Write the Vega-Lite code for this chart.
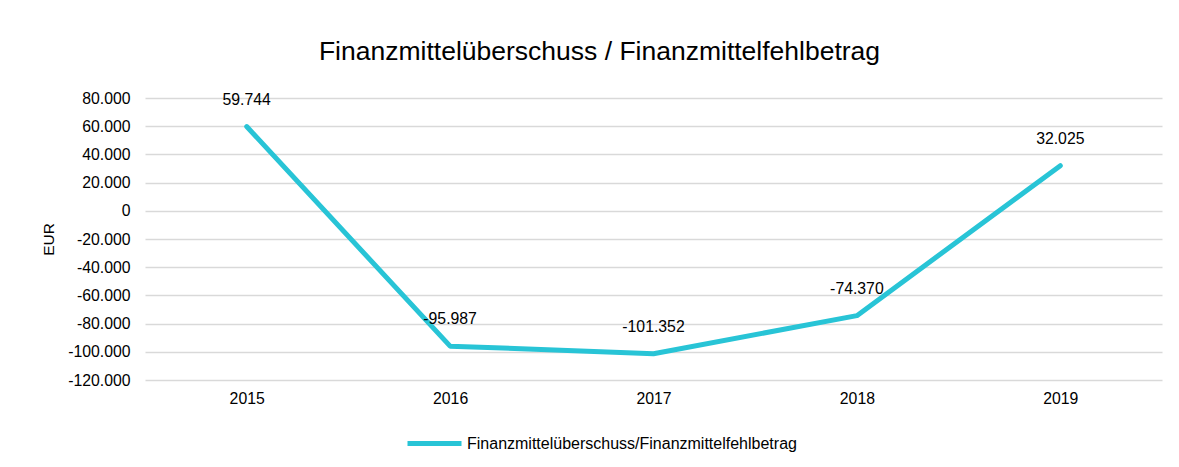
{
  "$schema": "https://vega.github.io/schema/vega-lite/v6.json",
  "autosize": "none",
  "width": 1017,
  "height": 282,
  "padding": {"left": 145, "top": 98, "right": 17, "bottom": 87},
  "background": "white",
  "config": {
    "font": "Liberation Sans",
    "view": {"stroke": null},
    "locale": {"number": {"decimal": ",", "thousands": ".", "grouping": [3], "currency": ["", " €"], "minus": "-"}}
  },
  "title": {
    "text": "Finanzmittelüberschuss / Finanzmittelfehlbetrag",
    "fontSize": 26.5,
    "fontWeight": "normal",
    "color": "#000000",
    "anchor": "middle",
    "baseline": "alphabetic",
    "offset": 4,
    "dx": -54
  },
  "data": {
    "values": [
      {"Jahr": "2015", "Wert": 59744, "Reihe": "Finanzmittelüberschuss/Finanzmittelfehlbetrag"},
      {"Jahr": "2016", "Wert": -95987, "Reihe": "Finanzmittelüberschuss/Finanzmittelfehlbetrag"},
      {"Jahr": "2017", "Wert": -101352, "Reihe": "Finanzmittelüberschuss/Finanzmittelfehlbetrag"},
      {"Jahr": "2018", "Wert": -74370, "Reihe": "Finanzmittelüberschuss/Finanzmittelfehlbetrag"},
      {"Jahr": "2019", "Wert": 32025, "Reihe": "Finanzmittelüberschuss/Finanzmittelfehlbetrag"}
    ]
  },
  "encoding": {
    "x": {
      "field": "Jahr",
      "type": "ordinal",
      "scale": {"type": "point", "padding": 0.5},
      "axis": {
        "title": null,
        "labelAngle": 0,
        "labelFontSize": 15.8,
        "labelColor": "#000000",
        "labelPadding": 11,
        "ticks": false,
        "tickSize": 0,
        "domain": false,
        "grid": false
      }
    },
    "y": {
      "field": "Wert",
      "type": "quantitative",
      "scale": {"domain": [-120000, 80000], "nice": false, "zero": false},
      "axis": {
        "title": "EUR",
        "titleFontSize": 15.5,
        "titleFontWeight": "normal",
        "titleColor": "#000000",
        "titlePadding": 11,
        "values": [-120000, -100000, -80000, -60000, -40000, -20000, 0, 20000, 40000, 60000, 80000],
        "format": ",d",
        "labelFontSize": 15.8,
        "labelColor": "#000000",
        "labelPadding": 15,
        "ticks": false,
        "tickSize": 0,
        "domain": false,
        "grid": true,
        "gridColor": "#d9d9d9",
        "gridWidth": 1.3
      }
    }
  },
  "layer": [
    {
      "mark": {"type": "line", "strokeWidth": 5, "strokeCap": "round", "strokeJoin": "round"},
      "encoding": {
        "color": {
          "field": "Reihe",
          "type": "nominal",
          "scale": {"range": ["#28C4D6"]},
          "legend": {
            "title": null,
            "orient": "none",
            "legendX": 260,
            "legendY": 316,
            "symbolType": "stroke",
            "symbolSize": 2916,
            "symbolStrokeWidth": 5,
            "labelFontSize": 16,
            "labelColor": "#000000",
            "labelOffset": 3,
            "labelLimit": 600
          }
        }
      }
    },
    {
      "mark": {"type": "text", "fontSize": 15.8, "color": "#000000", "dy": -27, "baseline": "middle"},
      "encoding": {
        "text": {"field": "Wert", "type": "quantitative", "format": ",d"}
      }
    }
  ]
}
